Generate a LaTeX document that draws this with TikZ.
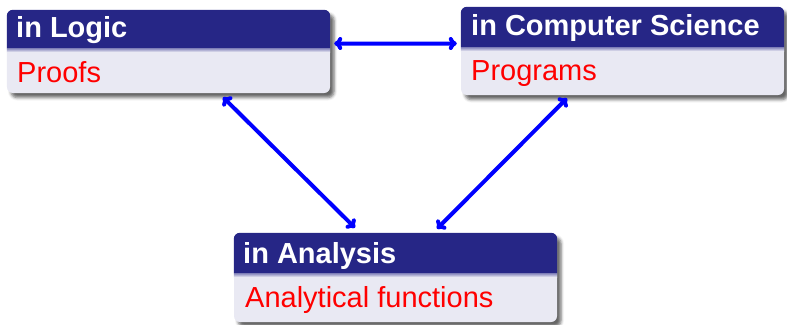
\documentclass[tikz,border=0pt]{standalone}
\usepackage{fontspec}
\setmainfont{Liberation Sans}
\usetikzlibrary{arrows.meta,shadows.blur}
\definecolor{headcol}{RGB}{38,38,134}
\definecolor{bodycol}{RGB}{233,233,243}
\definecolor{arrblue}{RGB}{0,0,255}
\definecolor{txtred}{RGB}{255,0,0}
\tikzset{
  blockbox/.style={fill=bodycol, rounded corners=6bp, inner sep=0pt, minimum width=323bp,
    blur shadow={shadow xshift=4bp, shadow yshift=-4.5bp, shadow blur radius=3bp, shadow opacity=60}},
  headfill/.style={fill=headcol},
  seam/.style={top color=headcol!55!bodycol, bottom color=bodycol},
  headtext/.style={anchor=base west, inner sep=0pt, text=white, font=\fontsize{29bp}{34bp}\selectfont\bfseries},
  bodytext/.style={anchor=base west, inner sep=0pt, text=txtred, font=\fontsize{29bp}{34bp}\selectfont},
  link/.style={draw=arrblue, line width=4bp, line cap=round, line join=round,
    {To[length=8bp,width=13bp,round]}-{To[length=8bp,width=13bp,round]}}
}
\begin{document}
\begin{tikzpicture}[x=1bp,y=-1bp]
\useasboundingbox (0,0) rectangle (787,324);
% Logic block
\node[blockbox, minimum height=83bp] (logic) at (168.5,51.5) {};
\fill[headfill] (logic.west |- 0,48) {[rounded corners=6bp] -- (logic.north west) -- (logic.north east)} -- (logic.east |- 0,48) -- cycle;
\shade[seam] (logic.west |- 0,48) rectangle (logic.east |- 0,52);
\node[headtext] (logicT) at (16,37) {in Logic};
\node[bodytext] (logicB) at (17,82) {Proofs};
% Computer Science block
\node[blockbox, minimum height=88bp] (cs) at (622.5,51) {};
\fill[headfill] (cs.west |- 0,47) {[rounded corners=6bp] -- (cs.north west) -- (cs.north east)} -- (cs.east |- 0,47) -- cycle;
\shade[seam] (cs.west |- 0,47) rectangle (cs.east |- 0,51);
\node[headtext] (csT) at (471,35) {in Computer Science};
\node[bodytext] (csB) at (471,80) {Programs};
% Analysis block
\node[blockbox, minimum height=89bp] (analysis) at (395.5,277.5) {};
\fill[headfill] (analysis.west |- 0,273) {[rounded corners=6bp] -- (analysis.north west) -- (analysis.north east)} -- (analysis.east |- 0,273) -- cycle;
\shade[seam] (analysis.west |- 0,273) rectangle (analysis.east |- 0,277);
\node[headtext] (anT) at (243,263) {in Analysis};
\node[bodytext] (anB) at (245,307) {Analytical functions};
% connectors
\draw[link] ([shift={(4,-8)}]logic.east) -- ([shift={(-4,-7.5)}]cs.west);
\draw[link] ([shift={(54.5,4)}]logic.south) -- ([shift={(-40.5,-5)}]analysis.north);
\draw[link] ([shift={(-55.5,3)}]cs.south) -- ([shift={(41.5,-4)}]analysis.north);
\end{tikzpicture}
\end{document}
